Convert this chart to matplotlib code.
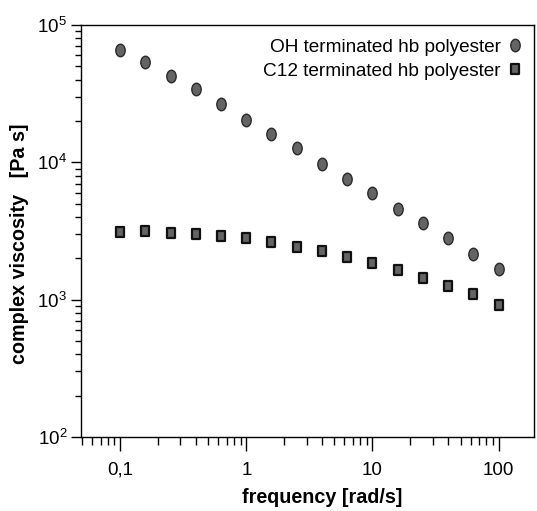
"""
Complex viscosity vs. frequency for two hb polyesters (log-log).
"""
import matplotlib
matplotlib.use("Agg")
import matplotlib.pyplot as plt
import numpy as np
from matplotlib.path import Path
from matplotlib.ticker import LogLocator, FixedLocator, FixedFormatter, NullFormatter

plt.rcParams.update({
    "font.family": ["Liberation Sans", "DejaVu Sans"],
    "font.size": 12,
    "mathtext.fontset": "custom",
    "mathtext.rm": "Liberation Sans",
})

# ── data ──────────────────────────────────────────────────────────────
freq = [0.1, 0.158, 0.251, 0.398, 0.631, 1.0, 1.58, 2.51, 3.98, 6.31,
        10.0, 15.8, 25.1, 39.8, 63.1, 100.0]
visc_oh = [65800, 53800, 42600, 34200, 26500, 20300, 16100, 12700, 9700, 7600,
           5950, 4600, 3600, 2800, 2150, 1670]
visc_c12 = [3130, 3160, 3060, 2990, 2930, 2790, 2650, 2430, 2250, 2040,
            1850, 1640, 1440, 1260, 1090, 910]

label_oh = "OH terminated hb polyester"
label_c12 = "C12 terminated hb polyester"

x_ticks = [0.1, 1, 10, 100]
x_ticklabels = ["0,1", "1", "10", "100"]

# stretched markers (the original looks slightly taller than wide)
circ = Path.unit_circle()
ellipse = Path(circ.vertices * [0.75, 1.0], circ.codes)
rect = Path([(-0.4, -0.5), (0.4, -0.5), (0.4, 0.5), (-0.4, 0.5), (-0.4, -0.5)],
            [Path.MOVETO, Path.LINETO, Path.LINETO, Path.LINETO, Path.CLOSEPOLY])

fig = plt.figure(figsize=(5.37, 5.11), dpi=100)
ax = fig.add_axes([0.151, 0.145, 0.843, 0.806])

ax.plot(freq, visc_oh, linestyle="none", marker=ellipse, markersize=9,
        markerfacecolor="#646464", markeredgecolor="#2a2a2a", markeredgewidth=1.0,
        label=label_oh)
ax.plot(freq, visc_c12, linestyle="none", marker=rect, markersize=7.5,
        markerfacecolor="#646464", markeredgecolor="#111111", markeredgewidth=1.6,
        label=label_c12)

ax.set_xscale("log")
ax.set_yscale("log")
ax.set_xlim(0.049, 190)
ax.set_ylim(1e2, 1e5)

ax.xaxis.set_major_locator(FixedLocator(x_ticks))
ax.xaxis.set_major_formatter(FixedFormatter(x_ticklabels))
ax.xaxis.set_minor_locator(LogLocator(base=10, subs=np.arange(2, 10), numticks=20))
ax.xaxis.set_minor_formatter(NullFormatter())
ax.yaxis.set_major_locator(LogLocator(base=10, numticks=10))
ax.yaxis.set_minor_locator(LogLocator(base=10, subs=np.arange(2, 10), numticks=20))
ax.yaxis.set_minor_formatter(NullFormatter())

ax.tick_params(axis="both", which="both", direction="out", width=1.0,
               top=False, right=False, labelsize=13.5, colors="black")
ax.tick_params(axis="x", which="major", length=10, pad=8)
ax.tick_params(axis="x", which="minor", length=6)
ax.tick_params(axis="y", which="major", length=7, pad=3)
ax.tick_params(axis="y", which="minor", length=4)

for sp in ax.spines.values():
    sp.set_linewidth(1.0)

ax.set_xlabel("frequency [rad/s]", fontsize=14.2, fontweight="bold")
ax.set_ylabel("complex viscosity   [Pa s]", fontsize=14.2, fontweight="bold")
ax.xaxis.set_label_coords(0.533, -0.124)
ax.yaxis.set_label_coords(-0.115, 0.47)

ax.legend(loc="upper right", frameon=False, markerfirst=False, fontsize=13.7,
          handletextpad=0.35, borderaxespad=0.0, labelspacing=0.35,
          bbox_to_anchor=(0.993, 0.985), handlelength=0.8)

fig.savefig("out.png", dpi=100)
